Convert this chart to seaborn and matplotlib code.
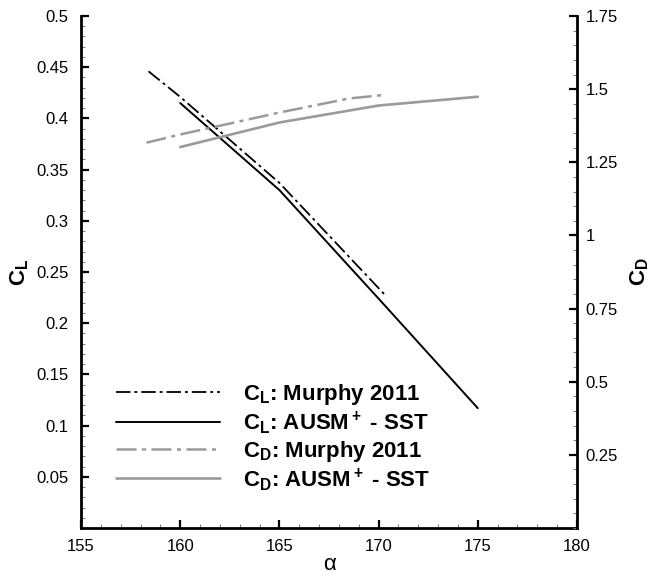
import numpy as np
import pandas as pd
import seaborn as sns
import matplotlib
matplotlib.use("Agg")
import matplotlib.pyplot as plt
from matplotlib.ticker import MultipleLocator, FixedLocator

# ---- data ----
alpha_cl_murphy = [158.4, 160.0, 165.0, 170.4]
cl_murphy = [0.446, 0.421, 0.337, 0.226]

alpha_cl_ausm = [160.0, 165.0, 170.0, 175.0]
cl_ausm = [0.415, 0.330, 0.224, 0.117]

alpha_cd_murphy = [158.3, 160.0, 165.0, 168.5, 170.4]
cd_murphy = [1.317, 1.345, 1.420, 1.468, 1.481]

alpha_cd_ausm = [160.0, 165.0, 170.0, 175.0]
cd_ausm = [1.302, 1.386, 1.444, 1.474]

x_ticks = [155, 160, 165, 170, 175, 180]
x_ticklabels = ["155", "160", "165", "170", "175", "180"]
cl_ticks = [0.05, 0.1, 0.15, 0.2, 0.25, 0.3, 0.35, 0.4, 0.45, 0.5]
cl_ticklabels = ["0.05", "0.1", "0.15", "0.2", "0.25", "0.3", "0.35", "0.4", "0.45", "0.5"]
cd_ticks = [0.25, 0.5, 0.75, 1.0, 1.25, 1.5, 1.75]
cd_ticklabels = ["0.25", "0.5", "0.75", "1", "1.25", "1.5", "1.75"]

labels = [r"$\mathbf{C_L}$: Murphy 2011",
          r"$\mathbf{C_L}$: AUSM$\mathbf{^+}$ - SST",
          r"$\mathbf{C_D}$: Murphy 2011",
          r"$\mathbf{C_D}$: AUSM$\mathbf{^+}$ - SST"]

sns.set_style("ticks")
plt.rcParams['font.family'] = ['Liberation Sans', 'DejaVu Sans']
plt.rcParams['mathtext.fontset'] = 'custom'
plt.rcParams['mathtext.rm'] = 'Liberation Sans'
plt.rcParams['mathtext.it'] = 'Liberation Sans:italic'
plt.rcParams['mathtext.bf'] = 'Liberation Sans:bold'
for k in ['text.color', 'axes.labelcolor', 'xtick.color', 'ytick.color',
          'xtick.labelcolor', 'ytick.labelcolor', 'axes.edgecolor']:
    plt.rcParams[k] = 'black'

fig = plt.figure(figsize=(6.54, 5.77), dpi=100)
ax = fig.add_axes([81/654, 1-528/577, (577-81)/654, (528-16)/577])
ax2 = ax.twinx()

grey = "#9a9a9a"
dashdot = (0, (8, 2.2, 1.6, 2.2))

sns.lineplot(x=alpha_cl_murphy, y=cl_murphy, ax=ax, color="black", lw=1.3,
             linestyle=dashdot, sort=False, estimator=None)
sns.lineplot(x=alpha_cl_ausm, y=cl_ausm, ax=ax, color="black", lw=1.4,
             sort=False, estimator=None)
sns.lineplot(x=alpha_cd_murphy, y=cd_murphy, ax=ax2, color=grey, lw=1.8,
             linestyle=dashdot, sort=False, estimator=None)
sns.lineplot(x=alpha_cd_ausm, y=cd_ausm, ax=ax2, color=grey, lw=1.9,
             sort=False, estimator=None)

ax.set_xlim(155, 180)
ax.set_ylim(0, 0.5)
ax2.set_ylim(0, 1.75)

ax.set_xticks(x_ticks, x_ticklabels)
ax.xaxis.set_minor_locator(MultipleLocator(1))
ax.set_yticks(cl_ticks, cl_ticklabels)
ax.yaxis.set_minor_locator(MultipleLocator(0.01))
ax2.set_yticks(cd_ticks, cd_ticklabels)
ax2.yaxis.set_minor_locator(MultipleLocator(0.05))

for a in (ax, ax2):
    a.tick_params(which="major", direction="in", length=6, width=1.6, labelsize=12,
                  color="black", labelcolor="black")
    a.tick_params(which="minor", direction="in", length=3, width=0.7, color="#777777")
    for s in a.spines.values():
        s.set_linewidth(2)
        s.set_color("black")
    a.spines["top"].set_visible(False)
ax.tick_params(axis="y", which="major", pad=9)
ax.tick_params(axis="x", which="major", pad=8)
ax2.tick_params(axis="y", which="major", pad=6)
ax.spines["right"].set_visible(False)
ax2.spines["left"].set_visible(False)
ax2.spines["bottom"].set_visible(False)

ax.set_xlabel("α", fontsize=16, labelpad=0)
ax.set_ylabel(r"$\mathbf{C_L}$", fontsize=16, labelpad=4)
ax2.set_ylabel(r"$\mathbf{C_D}$", fontsize=16, labelpad=8, rotation=90)

handles = ax.get_lines()[:2] + ax2.get_lines()[:2]
if ax.get_legend() is not None:
    ax.get_legend().remove()
ax2.legend(handles, labels, loc="lower left", bbox_to_anchor=(0.03, 0.03),
           frameon=False, handlelength=4.7, handletextpad=1.0,
           labelspacing=0.1, prop={"weight": "bold", "size": 16})

fig.savefig("out.png", dpi=100)
